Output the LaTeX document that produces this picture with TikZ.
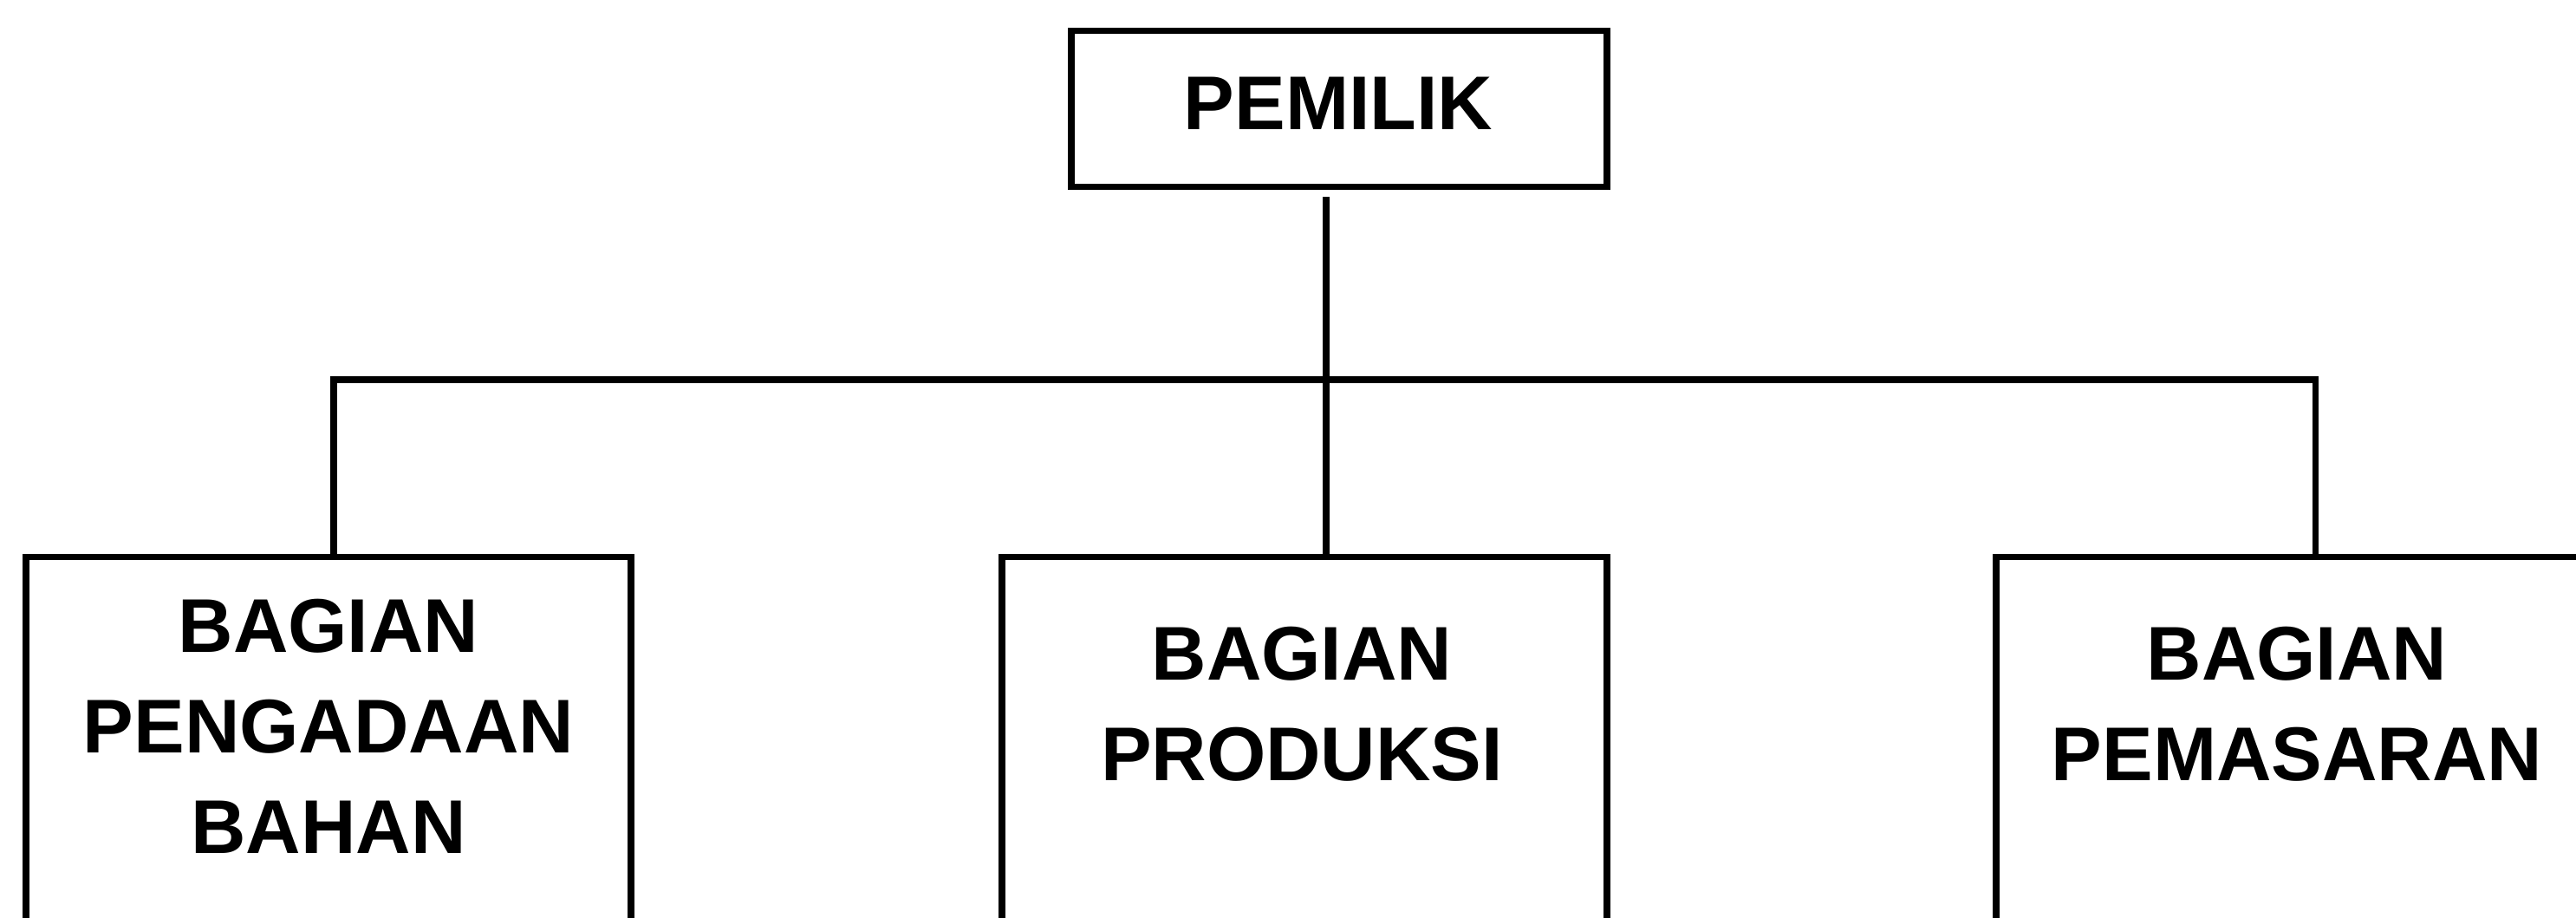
\documentclass[tikz,border=0pt]{standalone}
\usepackage{fontspec}
\setmainfont{Liberation Sans}
\begin{document}
\begin{tikzpicture}[
  x=1cm,y=1cm,
  box/.style={draw=black, line width=2.1pt, fill=white, inner sep=0pt, anchor=north},
  lbl/.style={font=\fontsize{25}{33}\selectfont\bfseries, align=center, inner sep=0pt},
  conn/.style={draw=black, line width=2pt, line cap=butt}
]
\useasboundingbox (0,0) rectangle (29.72,-10.59);
\clip (0,0) rectangle (29.72,-10.59);
\fill[white] (0,0) rectangle (29.72,-10.59);

% top box
\node[box, minimum width=6.18cm, minimum height=1.80cm] (pemilik) at (15.45,-0.32) {};
\node[lbl] (tpem) at (15.44,-1.19) {PEMILIK};

% lower boxes (cut off by the picture's edge)
\node[box, minimum width=6.98cm, minimum height=6cm] (lb) at (3.79,-6.39) {};
\node[box, minimum width=6.98cm, minimum height=6cm] (mb) at (15.05,-6.39) {};
\node[box, minimum width=6.98cm, minimum height=6cm] (rb) at (26.52,-6.39) {};

\node[lbl] (tl) at (3.79,-8.38) {BAGIAN\\PENGADAAN\\BAHAN};
\node[lbl] (tm) at (15.02,-8.12) {BAGIAN\\PRODUKSI};
\node[lbl] (tr) at (26.50,-8.12) {BAGIAN\\PEMASARAN};

% connectors
\coordinate (vtop) at (15.30,-2.27);
\coordinate (jm) at (15.30,-4.38);
\coordinate (jl) at (3.85,-4.38);
\coordinate (jr) at (26.71,-4.38);

\draw[conn] (vtop) -- (vtop |- mb.north);
\draw[conn] (jl |- lb.north) -- (jl) -- (jr) -- (jr |- rb.north);
\end{tikzpicture}
\end{document}
